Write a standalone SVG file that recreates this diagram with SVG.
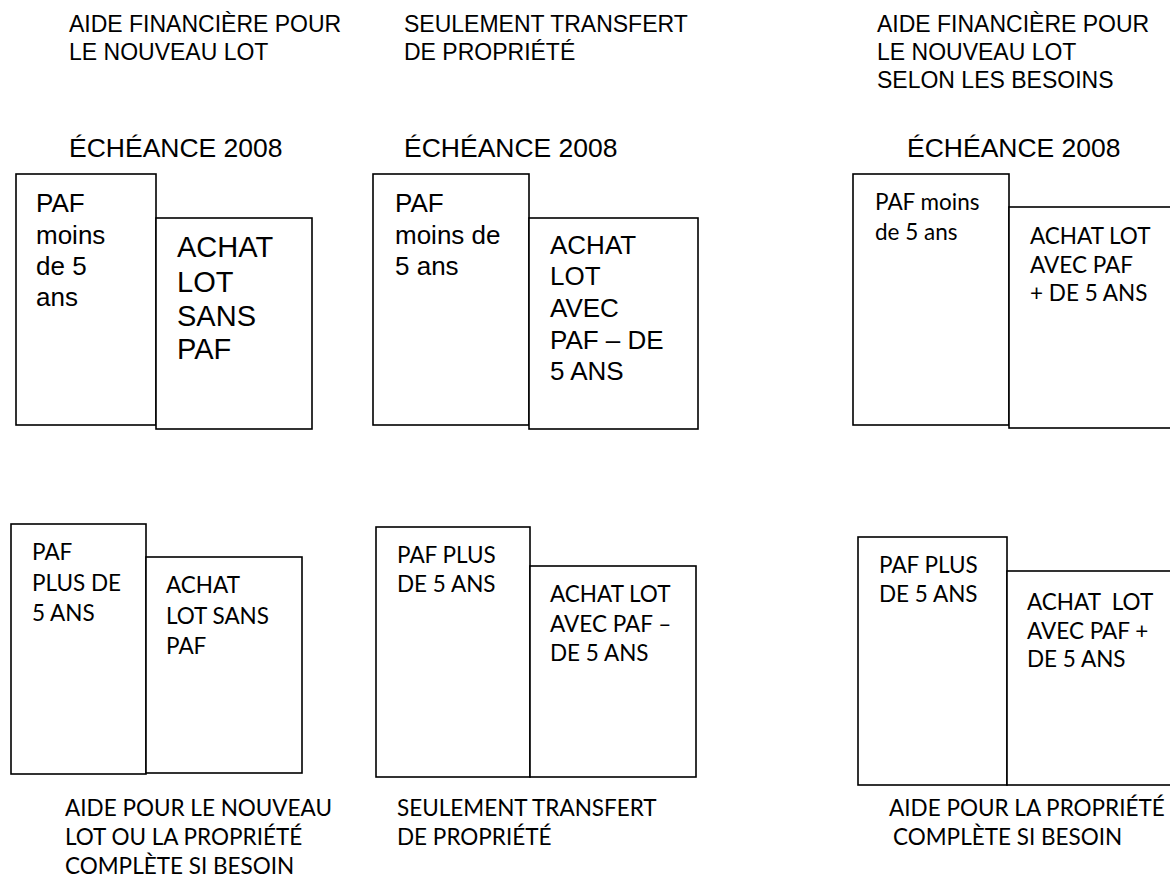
<svg xmlns="http://www.w3.org/2000/svg" width="1170" height="884" viewBox="0 0 1170 884">
<style>
.bx{fill:#fff;stroke:#000;stroke-width:1.6}
.a{font-family:"Liberation Sans",Arial,sans-serif;fill:#000}
.c{font-family:Lato,"Open Sans",sans-serif;fill:#000;font-size:22.5px}
.h{font-size:23px}
.e{font-size:26.5px}
.m{font-size:26px}
.l{font-size:29px}
</style>
<rect width="1170" height="884" fill="#fff"/>
<g id="labels">
<text class="a h" x="69" y="32">AIDE FINANCIÈRE POUR</text>
<text class="a h" x="69" y="60">LE NOUVEAU LOT</text>
<text class="a h" x="404" y="32">SEULEMENT TRANSFERT</text>
<text class="a h" x="404" y="60">DE PROPRIÉTÉ</text>
<text class="a h" x="877" y="32">AIDE FINANCIÈRE POUR</text>
<text class="a h" x="877" y="60">LE NOUVEAU LOT</text>
<text class="a h" x="877" y="88">SELON LES BESOINS</text>
<text class="a e" x="69" y="157">ÉCHÉANCE 2008</text>
<text class="a e" x="404" y="157">ÉCHÉANCE 2008</text>
<text class="a e" x="907" y="157">ÉCHÉANCE 2008</text>
<text class="c" x="65" y="816">AIDE POUR LE NOUVEAU</text>
<text class="c" x="65" y="845">LOT OU LA PROPRIÉTÉ</text>
<text class="c" x="65" y="874">COMPLÈTE SI BESOIN</text>
<text class="c" x="397" y="816">SEULEMENT TRANSFERT</text>
<text class="c" x="397" y="845">DE PROPRIÉTÉ</text>
<text class="c" x="889" y="816">AIDE POUR LA PROPRIÉTÉ</text>
<text class="c" x="893" y="845">COMPLÈTE SI BESOIN</text>
</g>
<g id="connectors"/>
<g id="tl1"><rect class="bx" x="16" y="174" width="140" height="251"/>
<text class="a m" x="36" y="212">PAF</text><text class="a m" x="36" y="243.5">moins</text><text class="a m" x="36" y="275">de 5</text><text class="a m" x="36" y="306">ans</text></g>
<g id="tl2"><rect class="bx" x="156" y="218" width="156" height="211"/>
<text class="a l" x="177" y="257">ACHAT</text><text class="a l" x="177" y="291.5">LOT</text><text class="a l" x="177" y="325.5">SANS</text><text class="a l" x="177" y="359">PAF</text></g>
<g id="tm1"><rect class="bx" x="373" y="174" width="156" height="251"/>
<text class="a m" x="395" y="212">PAF</text><text class="a m" x="395" y="243.5">moins de</text><text class="a m" x="395" y="275">5 ans</text></g>
<g id="tm2"><rect class="bx" x="529" y="218" width="169" height="211"/>
<text class="a m" x="550" y="253.5">ACHAT</text><text class="a m" x="550" y="285">LOT</text><text class="a m" x="550" y="316.5">AVEC</text><text class="a m" x="550" y="348.5">PAF – DE</text><text class="a m" x="550" y="380">5 ANS</text></g>
<g id="tr1"><rect class="bx" x="853" y="174" width="156" height="251"/>
<text class="c" x="875" y="210">PAF moins</text><text class="c" x="875" y="239.5">de 5 ans</text></g>
<g id="tr2"><rect class="bx" x="1009" y="207" width="180" height="221"/>
<text class="c" x="1030" y="244">ACHAT LOT</text><text class="c" x="1030" y="272.5">AVEC PAF</text><text class="c" x="1030" y="301">+ DE 5 ANS</text></g>
<g id="bl1"><rect class="bx" x="11" y="524" width="135" height="250"/>
<text class="c" x="32" y="560">PAF</text><text class="c" x="32" y="590.5">PLUS DE</text><text class="c" x="32" y="620.5">5 ANS</text></g>
<g id="bl2"><rect class="bx" x="146" y="557" width="156" height="216"/>
<text class="c" x="166" y="593">ACHAT</text><text class="c" x="166" y="623.5">LOT SANS</text><text class="c" x="166" y="654">PAF</text></g>
<g id="bm1"><rect class="bx" x="376" y="527" width="154" height="250"/>
<text class="c" x="397" y="563">PAF PLUS</text><text class="c" x="397" y="592">DE 5 ANS</text></g>
<g id="bm2"><rect class="bx" x="530" y="566" width="166" height="211"/>
<text class="c" x="550" y="602">ACHAT LOT</text><text class="c" x="550" y="631.5">AVEC PAF –</text><text class="c" x="550" y="661">DE 5 ANS</text></g>
<g id="br1"><rect class="bx" x="858" y="537" width="149" height="248"/>
<text class="c" x="879" y="573">PAF PLUS</text><text class="c" x="879" y="602">DE 5 ANS</text></g>
<g id="br2"><rect class="bx" x="1007" y="571" width="180" height="214"/>
<text class="c" x="1027" y="610" xml:space="preserve">ACHAT  LOT</text><text class="c" x="1027" y="638.5">AVEC PAF +</text><text class="c" x="1027" y="667">DE 5 ANS</text></g>
</svg>
